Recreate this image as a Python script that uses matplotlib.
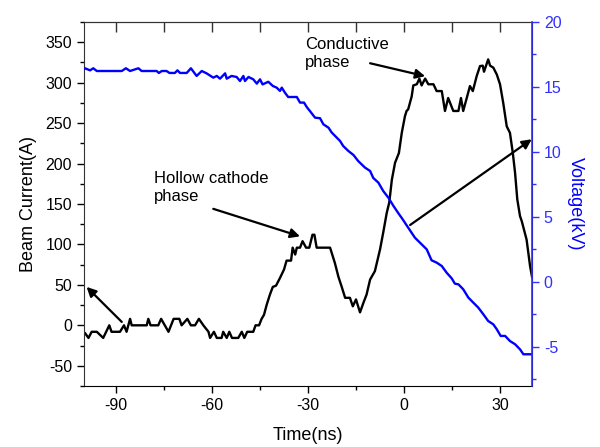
import numpy as np
import matplotlib
matplotlib.use("Agg")
import matplotlib.pyplot as plt
from matplotlib.ticker import MultipleLocator

plt.rcParams["font.family"] = ["Liberation Sans", "DejaVu Sans"]
plt.rcParams["axes.unicode_minus"] = False

# beam current (A) vs time (ns)
t_cur = [-100.0, -99.7, -98.6, -97.6, -96.0, -94.0, -92.1, -91.4, -88.75, -87.5, -86.7, -85.6, -85.1,
         -80.4, -79.9, -79.2, -76.8, -75.9, -73.6, -72.0, -70.2, -69.5, -67.7, -66.6, -65.3,
         -64.1, -62.7, -61.1, -60.6, -59.4, -58.5, -57.0, -56.5, -55.4, -54.6, -53.75, -51.8,
         -50.7, -49.9, -49.0, -47.1, -46.4, -45.3, -44.5, -43.75, -42.9, -41.9, -41.0, -40.0,
         -38.75, -37.5, -36.7, -35.3, -34.8, -34.0, -33.5, -32.5, -31.7, -30.6, -29.6, -28.6,
         -28.0, -27.3, -23.1, -21.6, -20.5, -19.5, -18.4, -16.9, -16.0, -15.0, -13.75, -12.7,
         -11.7, -10.6, -9.1, -7.5, -6.5, -5.4, -4.6, -3.8, -2.8, -1.6, -0.7, 0.3, 0.8, 1.3,
         2.4, 2.9, 4.0, 4.8, 5.5, 6.6, 7.6, 9.2, 10.2, 11.8, 12.8, 13.8, 15.4, 17.0, 17.8,
         18.5, 19.6, 20.6, 21.5, 22.7, 23.75, 24.6, 25.0, 26.3, 26.9, 27.9, 29.0, 30.0, 31.0,
         32.1, 33.1, 34.0, 34.7, 35.4, 36.25, 36.8, 38.3, 39.4, 40.0]
i_cur = [-9, -9.5, -15.6, -8, -8, -15.6, 0, -8, -8, 0, -8, 8, 0,
         0, 8, 0, 0, 8, -8, 8, 8, 0, 8, 0, 0,
         8, 0, -8, -15.6, -8, -15.6, -15.6, -8, -15.6, -8, -15.6, -15.6,
         -8, -15.6, -8, -8, 0, 0, 8, 13, 25.6, 38, 47.5, 49,
         58.6, 69, 80, 80, 96, 87.5, 96, 96, 104, 96, 96, 112,
         112, 96, 96, 77, 60, 48, 34, 34, 23.5, 32, 16, 27.7,
         38, 56.6, 67, 93.7, 114.6, 139, 152, 180, 201, 213, 238, 258.7, 265, 267,
         283, 296.6, 298, 305, 296.6, 305, 298, 298, 289.6, 289.6, 265, 281, 265, 265, 281,
         265, 281, 295.8, 289.6, 308, 320.5, 321, 313.5, 328.8, 321, 318.6, 310, 298, 275,
         246, 238, 213, 188.6, 155.6, 135, 128.7, 106, 73, 60]

# voltage (kV) vs time (ns)
t_volt = [-100.0, -99.7, -98.1, -97.1, -96.0, -88.2, -86.9, -85.6, -83.0, -82.0, -77.3, -76.6, -75.7,
          -74.2, -73.3, -71.6, -70.8, -70.0, -67.9, -66.6, -64.8, -63.2, -61.7, -59.6, -58.5,
          -57.5, -55.9, -55.4, -53.9, -52.3, -51.25, -50.2, -49.7, -48.6, -47.1, -46.0, -45.0,
          -44.2, -42.4, -41.0, -39.8, -38.75, -38.2, -37.2, -36.2, -33.5, -32.5, -31.25, -30.4,
          -29.4, -27.8, -26.25, -25.2, -23.6, -22.6, -21.0, -20.0, -19.0, -17.4, -15.8, -14.3,
          -12.2, -10.6, -9.6, -8.0, -6.5, -4.9, -3.3, -1.8, -0.5, 1.3, 3.4, 5.5, 7.1, 8.6,
          10.2, 11.8, 13.3, 14.9, 15.9, 17.0, 18.5, 20.1, 21.7, 23.2, 24.8, 26.3, 27.9, 29.0,
          30.2, 31.6, 33.1, 34.7, 36.25, 37.3, 39.4, 40.0]
v_volt = [16.4, 16.44, 16.28, 16.44, 16.23, 16.23, 16.44, 16.23, 16.44, 16.23, 16.23, 16.08, 16.23,
          16.23, 16.08, 16.08, 16.28, 16.08, 16.08, 16.44, 15.85, 16.23, 16.05, 15.72, 15.85,
          15.64, 16.05, 15.64, 15.85, 15.77, 15.46, 15.85, 15.46, 15.77, 15.59, 15.26, 15.59,
          15.2, 15.4, 15.08, 14.95, 14.7, 14.95, 14.56, 14.23, 14.23, 13.8, 13.8, 13.46,
          13.15, 12.64, 12.6, 12.13, 11.87, 11.5, 11.1, 10.85, 10.46, 10.08, 9.77, 9.3,
          8.8, 8.54, 8.0, 7.64, 7.0, 6.49, 5.85, 5.3, 4.85, 4.18, 3.41, 2.9, 2.51, 1.67,
          1.49, 1.23, 0.72, 0.28, -0.13, -0.18, -0.56, -1.2, -1.6, -1.97, -2.49, -3.0, -3.26, -3.64,
          -4.15, -4.15, -4.54, -4.79, -5.18, -5.56, -5.56, -5.56]

blue = "#0000ff"
axis_blue = "#3030ff"

fig = plt.figure(figsize=(6.0, 4.47), dpi=100)
ax = fig.add_axes([0.14, 0.1365, 0.7467, 0.8143])
ax2 = ax.twinx()

ax.plot(t_cur, i_cur, color="black", lw=1.7)
ax2.plot(t_volt, v_volt, color=blue, lw=1.7)

ax.set_xlim(-100, 40)
ax.set_ylim(-75, 375)
ax2.set_ylim(-8, 20)

ax.set_xticks([-90, -60, -30, 0, 30])
ax.xaxis.set_minor_locator(MultipleLocator(15))
ax.set_yticks(np.arange(-50, 351, 50))
ax.yaxis.set_minor_locator(MultipleLocator(25))
ax2.set_yticks([-5, 0, 5, 10, 15, 20])
ax2.yaxis.set_minor_locator(MultipleLocator(2.5))

ax.tick_params(which="major", direction="out", length=5, width=1, labelsize=11.5, top=False)
ax.tick_params(which="minor", direction="out", length=3, width=1, top=False)
ax2.tick_params(which="major", direction="out", length=5, width=1, colors=axis_blue, labelsize=11.5)
ax2.tick_params(which="minor", direction="out", length=3, width=1, colors=axis_blue)

# inward ticks along the top edge, no labels
top = ax.secondary_xaxis("top")
top.set_xticks(np.arange(-90, 41, 15))
top.tick_params(direction="in", length=7, width=1, labeltop=False, color="#333333")
top.spines["top"].set_color("#333333")

for s in ["left", "top"]:
    ax.spines[s].set_color("#333333")
ax2.spines["right"].set_color(axis_blue)
ax2.spines["right"].set_linewidth(1.2)
for s in ["left", "top", "bottom"]:
    ax2.spines[s].set_visible(False)

ax.set_xlabel("Time(ns)", fontsize=13, labelpad=10)
ax.set_ylabel("Beam Current(A)", fontsize=13, labelpad=6)
ax2.set_ylabel("Voltage(kV)", fontsize=13, color=blue, rotation=-90, labelpad=16)

arrow = dict(arrowstyle="-|>", color="black", lw=1.6, mutation_scale=14, shrinkA=0, shrinkB=0)
tr = ax.transData
ax2.annotate("", xy=(-99.2, 47.5), xytext=(-88.2, 4.2), xycoords=tr, textcoords=tr, arrowprops=arrow)
ax2.annotate("", xy=(-32.5, 110), xytext=(-59.6, 144), xycoords=tr, textcoords=tr, arrowprops=arrow)
ax2.annotate("", xy=(6.6, 308), xytext=(-10.6, 324), xycoords=tr, textcoords=tr, arrowprops=arrow)
ax2.annotate("", xy=(39.9, 230), xytext=(1.9, 124), xycoords=tr, textcoords=tr, arrowprops=arrow)

ax2.text(-78.1, 191, "Hollow cathode\nphase", transform=tr, fontsize=12, ha="left", va="top",
         linespacing=1.25)
ax2.text(-30.9, 356, "Conductive\nphase", transform=tr, fontsize=12, ha="left", va="top",
         linespacing=1.25)

fig.savefig("out.png", dpi=100)
